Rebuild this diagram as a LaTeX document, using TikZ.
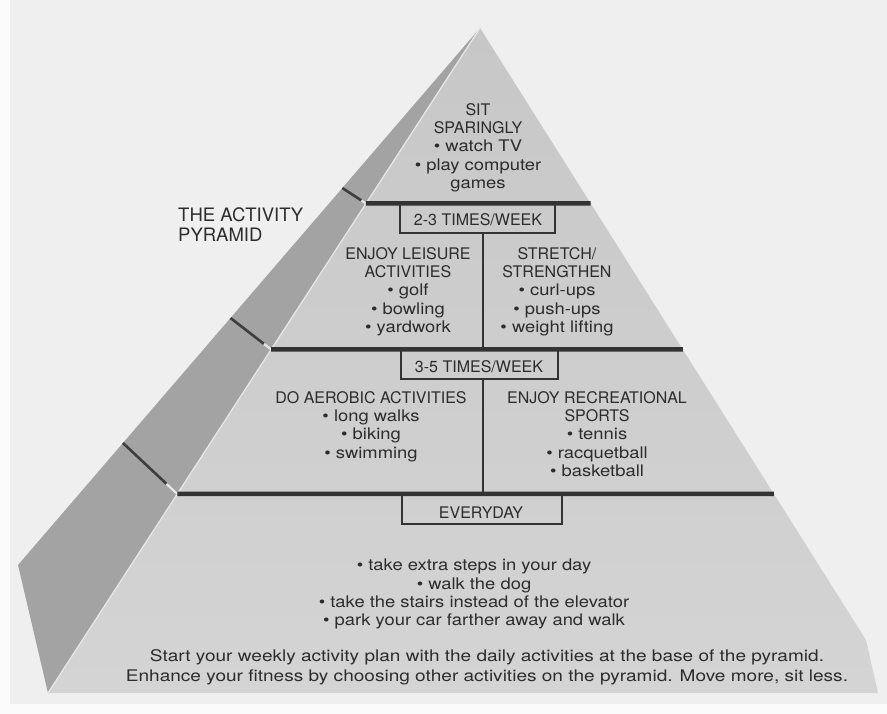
\documentclass[tikz,border=0pt]{standalone}
\usepackage{fontspec}
\setmainfont{TeX Gyre Heros}
\newfontfamily\itemfont[FakeStretch=1.15]{TeX Gyre Heros}
\newfontfamily\notefont[FakeStretch=1.19]{TeX Gyre Heros}
\newcommand\pitem[1]{{\itemfont\textbullet\ #1}}
\usetikzlibrary{calc}
\definecolor{page}{HTML}{EFEFEF}
\definecolor{facetop}{HTML}{C7C7C7}
\definecolor{facebot}{HTML}{D4D4D4}
\definecolor{sideface}{HTML}{A3A3A3}
\definecolor{ink}{HTML}{2C2C2C}
\definecolor{rulecol}{HTML}{333333}
\definecolor{glint}{HTML}{E6E6E6}
\tikzset{
  label/.style={anchor=north, inner sep=0pt, align=center, text=ink,
    font=\fontsize{16}{18.3}\selectfont},
  bandrule/.style={draw=rulecol, line width=4.5pt},
  colrule/.style={draw=rulecol, line width=2.4pt},
  tagbox/.style={draw=rulecol, line width=1.4pt},
  groove/.style={draw=rulecol!90!sideface, line width=2.6pt},
  gap/.style={draw=glint, line width=2.2pt}
}
\begin{document}
\begin{tikzpicture}[x=1pt, y=-1pt]
  % page with a paler rim on the left and bottom
  \fill[white!97!gray] (0,0) rectangle (887,714);
  \fill[page] (10,0) rectangle (887,704);
  \useasboundingbox (0,0) rectangle (887,714);

  % corners of the pyramid
  \coordinate (apex) at (480,28);
  \coordinate (outer) at (18,565);
  \coordinate (baseL) at (48,693);
  \coordinate (baseR) at (878,693);
  \coordinate (edgeR) at (866,640);

  % shaded side face and lit front face
  \fill[sideface] (apex) -- (outer) -- (baseL) -- cycle;
  \shade[top color=facetop, bottom color=facebot]
    (apex) -- (baseL) -- (baseR) -- (edgeR) -- cycle;
  \draw[glint, line width=1.3pt] (apex) -- (baseL);

  % ends of the band rules on both edges
  \coordinate (r1L) at ($(apex)!{(203.5-28)/665}!(baseL)$);
  \coordinate (r2L) at ($(apex)!{(349.5-28)/665}!(baseL)$);
  \coordinate (r3L) at ($(apex)!{(494-28)/665}!(baseL)$);
  \coordinate (r1R) at ($(apex)!{(203.5-28)/612}!(edgeR)$);
  \coordinate (r2R) at ($(apex)!{(349.5-28)/612}!(edgeR)$);
  \coordinate (r3R) at ($(apex)!{(494-28)/612}!(edgeR)$);

  % grooves across the side face
  \coordinate (g1) at ($(apex)!{(188-28)/537}!(outer)$);
  \coordinate (g2) at ($(apex)!{(318-28)/537}!(outer)$);
  \coordinate (g3) at ($(apex)!{(443-28)/537}!(outer)$);
  \draw[gap] ($(g1)!0.8!(r1L)$) -- (r1L);
  \draw[gap] ($(g2)!0.82!(r2L)$) -- (r2L);
  \draw[gap] ($(g3)!0.8!(r3L)$) -- (r3L);
  \draw[groove] (g1) -- ($(g1)!0.8!(r1L)$);
  \draw[groove] (g2) -- ($(g2)!0.82!(r2L)$);
  \draw[groove] (g3) -- ($(g3)!0.8!(r3L)$);

  % band rules
  \draw[bandrule] (r1L) -- (r1R);
  \draw[bandrule] (r2L) -- (r2R);
  \draw[bandrule] (r3L) -- (r3R);

  % frequency tags hanging under each rule
  \draw[tagbox] (400,205) |- (555,233) -- (555,205);
  \draw[tagbox] (401,351) |- (558,379) -- (558,351);
  \draw[tagbox] (402,496) |- (562,524) -- (562,496);
  \node[label] (tag1) at (478,213) {2-3 TIMES/WEEK};
  \node[label] (tag2) at (479,360) {3-5 TIMES/WEEK};
  \node[label] (tag3) at (481,507) {EVERYDAY};

  % column rules
  \draw[colrule] (483,233) -- (483,348);
  \draw[colrule] (483,379) -- (483,492);

  % title beside the pyramid
  \node[label, anchor=north west, align=left,
        font=\fontsize{18.5}{20.5}\selectfont] (title) at (178,207)
    {THE ACTIVITY\\PYRAMID};

  % top block
  \node[label] (sit) at (478,103)
    {SIT\\SPARINGLY\\\pitem{watch TV}\\\pitem{play computer}\\{\itemfont games}};

  % 2-3 times a week
  \node[label] (leisure) at (408,247)
    {ENJOY LEISURE\\ACTIVITIES\\\pitem{golf}\\\pitem{bowling}\\\pitem{yardwork}};
  \node[label] (stretch) at (557,247)
    {STRETCH/\\STRENGTHEN\\\pitem{curl-ups}\\\pitem{push-ups}\\\pitem{weight lifting}};

  % 3-5 times a week
  \node[label] (aerobic) at (371,391)
    {DO AEROBIC ACTIVITIES\\\pitem{long walks}\\\pitem{biking}\\\pitem{swimming}};
  \node[label] (sports) at (597,391)
    {ENJOY RECREATIONAL\\SPORTS\\\pitem{tennis}\\\pitem{racquetball}\\\pitem{basketball}};

  % every day
  \node[label] (daily) at (474,559)
    {\pitem{take extra steps in your day}\\\pitem{walk the dog}\\
     \pitem{take the stairs instead of the elevator}\\
     \pitem{park your car farther away and walk}};

  % closing note
  \node[label, font=\fontsize{16}{20}\notefont] (note) at (487,649)
    {Start your weekly activity plan with the daily activities at the base of the pyramid.\\
     Enhance your fitness by choosing other activities on the pyramid. Move more, sit less.};
\end{tikzpicture}
\end{document}
